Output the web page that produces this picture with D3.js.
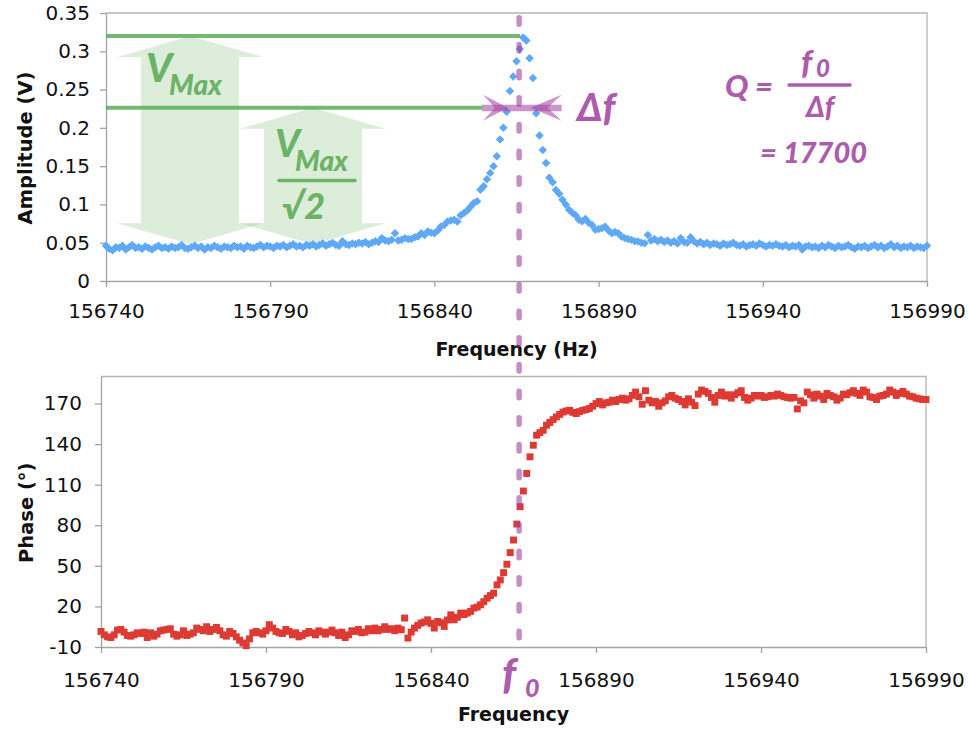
<!DOCTYPE html>
<html><head><meta charset="utf-8">
<script src="https://cdn.jsdelivr.net/npm/d3@7"></script>
<style>body{margin:0;background:#fff} svg{display:block}</style>
</head><body><svg id="c" width="969" height="730"></svg>
<script>
// ---------- data ----------
const freqStart = 156740, freqEnd = 156990;               // 1 Hz sweep
const frequency = d3.range(freqStart, freqEnd + 1);

const amplitude = [
0.046,0.042,0.040,0.044,0.043,0.046,0.041,0.044,0.047,0.043,
0.044,0.042,0.045,0.043,0.041,0.044,0.046,0.043,0.044,0.042,
0.045,0.043,0.044,0.047,0.043,0.042,0.044,0.046,0.043,0.045,
0.041,0.044,0.043,0.046,0.044,0.042,0.045,0.044,0.043,0.046,
0.044,0.045,0.042,0.046,0.044,0.043,0.045,0.047,0.044,0.046,
0.045,0.043,0.046,0.045,0.047,0.044,0.046,0.048,0.045,0.046,
0.044,0.047,0.046,0.048,0.045,0.047,0.049,0.046,0.048,0.050,
0.047,0.046,0.052,0.048,0.047,0.049,0.048,0.050,0.049,0.051,
0.048,0.050,0.052,0.051,
0.056,0.053,0.052,0.054,0.0625,0.053,0.054,0.056,0.055,0.055,
0.057,0.058,0.0625,0.060,0.0646,0.063,0.0625,0.066,0.0712,0.073,
0.0777,0.079,0.080,0.0777,0.086,0.0887,0.0922,0.097,0.1018,0.104,
0.1193,0.1236,0.133,0.1412,0.1498,0.163,0.1848,0.2002,0.221,0.248,
0.267,0.287,0.303,0.318,0.314,0.291,0.265,0.219,0.190,0.171,
0.154,0.135,0.129,0.119,0.114,0.106,0.100,0.093,0.089,0.086,
0.080,0.078,0.081,0.076,0.073,0.067,0.068,0.069,0.071,0.066,
0.0625,0.064,0.0625,0.058,0.056,0.055,0.0537,0.052,0.0515,0.050,
0.0494,0.060,0.053,
0.055,0.052,0.054,0.051,0.053,0.050,0.052,0.049,0.056,0.051,
0.050,0.057,0.052,0.049,0.051,0.048,0.050,0.047,0.049,0.048,
0.046,0.049,0.047,0.048,0.050,0.047,0.046,0.048,0.045,0.047,
0.048,0.046,0.049,0.047,0.045,0.047,0.046,0.048,0.046,0.045,
0.047,0.044,0.046,0.045,0.047,0.041,0.045,0.046,0.044,0.045,
0.043,0.046,0.044,0.047,0.045,0.043,0.046,0.044,0.045,0.047,
0.044,0.042,0.045,0.044,0.046,0.043,0.045,0.047,0.044,0.046,
0.043,0.045,0.048,0.044,0.046,0.043,0.045,0.044,0.046,0.043,
0.045,0.044,0.043,0.046
];

const phase = [
1.5,-1.0,-2.5,-3.0,-1.0,2.5,3.0,1.0,-1.5,-2.0,
-1.0,0.5,0.0,1.0,-3.0,0.5,-2.0,-0.5,2.0,2.5,
3.0,3.5,-0.5,-2.0,-1.0,2.0,-1.5,-0.5,0.5,4.0,
3.0,2.0,5.0,1.5,3.0,4.5,2.0,-1.0,-2.0,1.5,
0.0,-2.5,-5.0,-7.0,-9.0,-4.0,0.5,1.5,0.5,-0.5,
2.0,6.5,4.0,1.5,0.5,0.0,3.0,1.5,-1.0,0.5,
-2.5,-1.5,0.0,1.5,0.5,-1.0,2.0,1.0,-0.5,1.0,
2.5,0.5,-1.5,1.0,-3.0,-1.0,2.0,1.5,3.0,0.5,
1.0,3.5,2.0,4.0,2.0,3.0,5.0,3.0,3.5,2.0,
4.0,2.8,
11.4,-3.4,1.0,4.0,6.0,7.7,8.5,10.1,7.5,4.0,
8.9,8.0,5.2,10.0,13.8,10.1,12.0,15.1,14.0,15.1,
16.3,18.8,19.5,21.2,23.5,26.1,28.0,29.8,35.9,39.6,
45.0,51.2,59.8,69.1,80.9,93.7,105.3,118.3,130.6,139.2,
146.6,148.5,150.2,154.0,156.0,158.1,160.1,162.0,163.7,164.5,
165.0,163.5,162.6,164.0,165.0,165.5,166.3,168.0,170.0,
171.5,169,170.5,171,172.5,171.5,173,174,172.5,173.5,
176,178.5,175,169.5,179.5,172.5,170.5,171.5,168,170.5,
172,175,176,174,173,171.5,169,173.5,171,168.5,
177,180,179,177.5,174.5,171,176,178.5,175.5,176.5,
174,176.5,178,179.5,174.5,172.5,174,176,175.5,176,
174.5,175,176,175.5,177,176,175,174.5,174,174.5,
166,172,170.5,178.5,176.5,174,177,175.5,173,177.5,
176,175,172.5,174,177,176.5,178,179.5,177.5,176,
180,178.5,175,174.5,173,175.5,176,177,180,178.5,
176,177.5,179,177,175.5,175,174,173.5,173,173
];

const xTickValues = [156740,156790,156840,156890,156940,156990];
const ampTickValues = [0,0.05,0.1,0.15,0.2,0.25,0.3,0.35];
const phaseTickValues = [-10,20,50,80,110,140,170];

const f0 = 156865.8;            // resonance frequency (dashed line)
const vMax = 0.32;              // peak amplitude
const halfPowerLeft = 156862.4; // Δf marker tips
const halfPowerRight = 156869.3;
const qFactor = 17700;
const vBase = 0.048;            // bottom of V arrows
const arrow1Freq = 156765.6, arrow2Freq = 156803.0;

// ---------- layout ----------
const svg = d3.select('#c');
const pA = {l:106, r:927, t:13, b:281};
const pP = {l:101, r:926, t:376.5, b:647};
const xA = d3.scaleLinear().domain([freqStart, freqEnd]).range([pA.l, pA.r]);
const yA = d3.scaleLinear().domain([0, 0.35]).range([pA.b, pA.t]);
const xP = d3.scaleLinear().domain([freqStart, freqEnd]).range([pP.l, pP.r]);
const yP = d3.scaleLinear().domain([-10, 190]).range([pP.b, pP.t]);

const axisColor = '#a3a3a3';
const tickFont = '"DejaVu Sans", Verdana, sans-serif';
const annFont = 'Lato, "Open Sans", sans-serif';
const green = '#6cb368', purple = '#ad5cad';

function styleAxis(g){
  g.select('.domain').attr('stroke', axisColor).attr('stroke-width', 1.3);
  g.selectAll('.tick line').attr('stroke', axisColor).attr('stroke-width', 1.3);
  g.selectAll('.tick text').attr('fill', '#111').style('font-family', tickFont).style('font-size', '20px');
}
function frame(p){
  svg.append('path').attr('d', `M${p.l},${p.t}H${p.r}V${p.b}`)
    .attr('fill','none').attr('stroke', '#b4b4b4').attr('stroke-width', 1.3);
}

// ---------- top chart ----------
frame(pA);

// green double arrows (behind data)
function vArrow(cx, yt, yb){
  const hw = 73, sw = 49, hh = 21;
  return `M${cx},${yt}L${cx+hw},${yt+hh}L${cx+sw},${yt+hh}L${cx+sw},${yb-hh}L${cx+hw},${yb-hh}L${cx},${yb}` +
         `L${cx-hw},${yb-hh}L${cx-sw},${yb-hh}L${cx-sw},${yt+hh}L${cx-hw},${yt+hh}Z`;
}
const ann = svg.append('g');
ann.append('path').attr('d', vArrow(xA(arrow1Freq), yA(vMax), yA(vBase)))
  .attr('fill', 'rgb(120,190,110)').attr('fill-opacity', 0.26);
ann.append('path').attr('d', vArrow(xA(arrow2Freq), yA(vMax/Math.SQRT2), yA(vBase)))
  .attr('fill', 'rgb(120,190,110)').attr('fill-opacity', 0.26);

svg.append('g').attr('transform', `translate(0,${pA.b})`)
  .call(d3.axisBottom(xA).tickValues(xTickValues).tickSize(6).tickSizeOuter(0).tickPadding(17).tickFormat(d3.format('d')))
  .call(styleAxis);
svg.append('g').attr('transform', `translate(${pA.l},0)`)
  .call(d3.axisLeft(yA).tickValues(ampTickValues).tickSize(6).tickSizeOuter(0).tickPadding(10).tickFormat(d => String(d)))
  .call(styleAxis);

const diamond = d3.symbol(d3.symbolSquare, 36);
svg.append('g').selectAll('path').data(frequency).join('path')
  .attr('d', diamond)
  .attr('transform', (f, i) => `translate(${xA(f)},${yA(amplitude[i])}) rotate(45)`)
  .attr('fill', '#5fa8f6');

// green level lines
svg.append('line').attr('x1', pA.l).attr('x2', xA(f0)+1).attr('y1', yA(vMax)).attr('y2', yA(vMax))
  .attr('stroke', '#5aab57').attr('stroke-opacity', 0.85).attr('stroke-width', 4);
svg.append('line').attr('x1', pA.l).attr('x2', xA(halfPowerLeft)-26).attr('y1', yA(vMax/Math.SQRT2)).attr('y2', yA(vMax/Math.SQRT2))
  .attr('stroke', '#5aab57').attr('stroke-opacity', 0.85).attr('stroke-width', 4);

// Δf marker
const yh = yA(vMax/Math.SQRT2);
const xl = xA(halfPowerLeft), xr = xA(halfPowerRight);
const mk = svg.append('g').attr('fill', '#a03ca0').attr('fill-opacity', 0.55);
mk.append('rect').attr('x', xl-26).attr('y', yh-3).attr('width', (xr+31)-(xl-26)).attr('height', 6.5);
mk.append('path').attr('d', `M${xl},${yh}L${xl-25},${yh-13}L${xl-13},${yh}L${xl-25},${yh+13}Z`);
mk.append('path').attr('d', `M${xr},${yh}L${xr+31},${yh-13}L${xr+17},${yh}L${xr+31},${yh+13}Z`);

// titles
svg.append('text').attr('x', (pA.l+pA.r)/2).attr('y', 356).attr('text-anchor','middle')
  .style('font-family', tickFont).style('font-weight','bold').style('font-size','19px').attr('fill','#111')
  .text('Frequency (Hz)');
svg.append('text').attr('transform', `translate(32,${(pA.t+pA.b)/2+1}) rotate(-90)`).attr('text-anchor','middle')
  .style('font-family', tickFont).style('font-weight','bold').style('font-size','19.5px').attr('fill','#111')
  .text('Amplitude (V)');

// ---------- bottom chart ----------
frame(pP);
svg.append('g').attr('transform', `translate(0,${pP.b})`)
  .call(d3.axisBottom(xP).tickValues(xTickValues).tickSize(6).tickSizeOuter(0).tickPadding(20).tickFormat(d3.format('d')))
  .call(styleAxis);
svg.append('g').attr('transform', `translate(${pP.l},0)`)
  .call(d3.axisLeft(yP).tickValues(phaseTickValues).tickSize(6).tickSizeOuter(0).tickPadding(13).tickFormat(d => String(d)))
  .call(styleAxis);

const square = d3.symbol(d3.symbolSquare, 48);
svg.append('g').selectAll('path').data(frequency).join('path')
  .attr('d', square)
  .attr('transform', (f, i) => `translate(${xP(f)},${yP(phase[i])})`)
  .attr('fill', '#dd3a33');

svg.append('text').attr('x', (pP.l+pP.r)/2).attr('y', 721).attr('text-anchor','middle')
  .style('font-family', tickFont).style('font-weight','bold').style('font-size','19px').attr('fill','#111')
  .text('Frequency');
svg.append('text').attr('transform', `translate(33,${(pP.t+pP.b)/2+1}) rotate(-90)`).attr('text-anchor','middle')
  .style('font-family', tickFont).style('font-weight','bold').style('font-size','19.5px').attr('fill','#111')
  .text('Phase (°)');

// ---------- dashed f0 line ----------
svg.append('line').attr('x1', xA(f0)).attr('x2', xA(f0)).attr('y1', 17.8).attr('y2', 640)
  .attr('stroke', '#a040a0').attr('stroke-opacity', 0.6).attr('stroke-width', 5.5)
  .attr('stroke-dasharray', '6.5 20.17').attr('stroke-linecap', 'round');

// ---------- annotation text ----------
function t(x, y, size, txt, color, anchor){
  return svg.append('text').attr('x', x).attr('y', y).attr('text-anchor', anchor || 'start')
    .style('font-family', annFont).style('font-weight', 900).style('font-style', 'italic')
    .style('font-size', size + 'px').attr('fill', color).text(txt);
}
// V_Max
t(146, 81.5, 40, 'V', green);
t(169, 95, 28, 'Max', green);
// V_Max / √2
t(275, 156.5, 38, 'V', green);
t(295, 171, 28, 'Max', green);
svg.append('line').attr('x1', 279).attr('x2', 355).attr('y1', 180.5).attr('y2', 180.5)
  .attr('stroke', green).attr('stroke-width', 3.5).attr('stroke-linecap','round');
t(282, 219, 36, '√2', green);

// Δf
t(577, 121, 38, 'Δf', purple);

// Q = f0/Δf = 17700
t(725, 97, 31, 'Q', purple);
t(755, 97, 31, '=', purple);
svg.append('line').attr('x1', 789).attr('x2', 850).attr('y1', 85).attr('y2', 85)
  .attr('stroke', purple).attr('stroke-width', 3.5).attr('stroke-linecap','round');
t(801, 74, 33, 'f', purple);
t(816, 77, 24, '0', purple);
t(820, 117, 28, 'Δf', purple, 'middle');
t(760, 163, 29, '= ' + d3.format('d')(qFactor), purple);

// f0 under axis
t(502, 689, 42, 'f', purple);
t(525, 697, 25, '0', purple);
</script></body></html>
